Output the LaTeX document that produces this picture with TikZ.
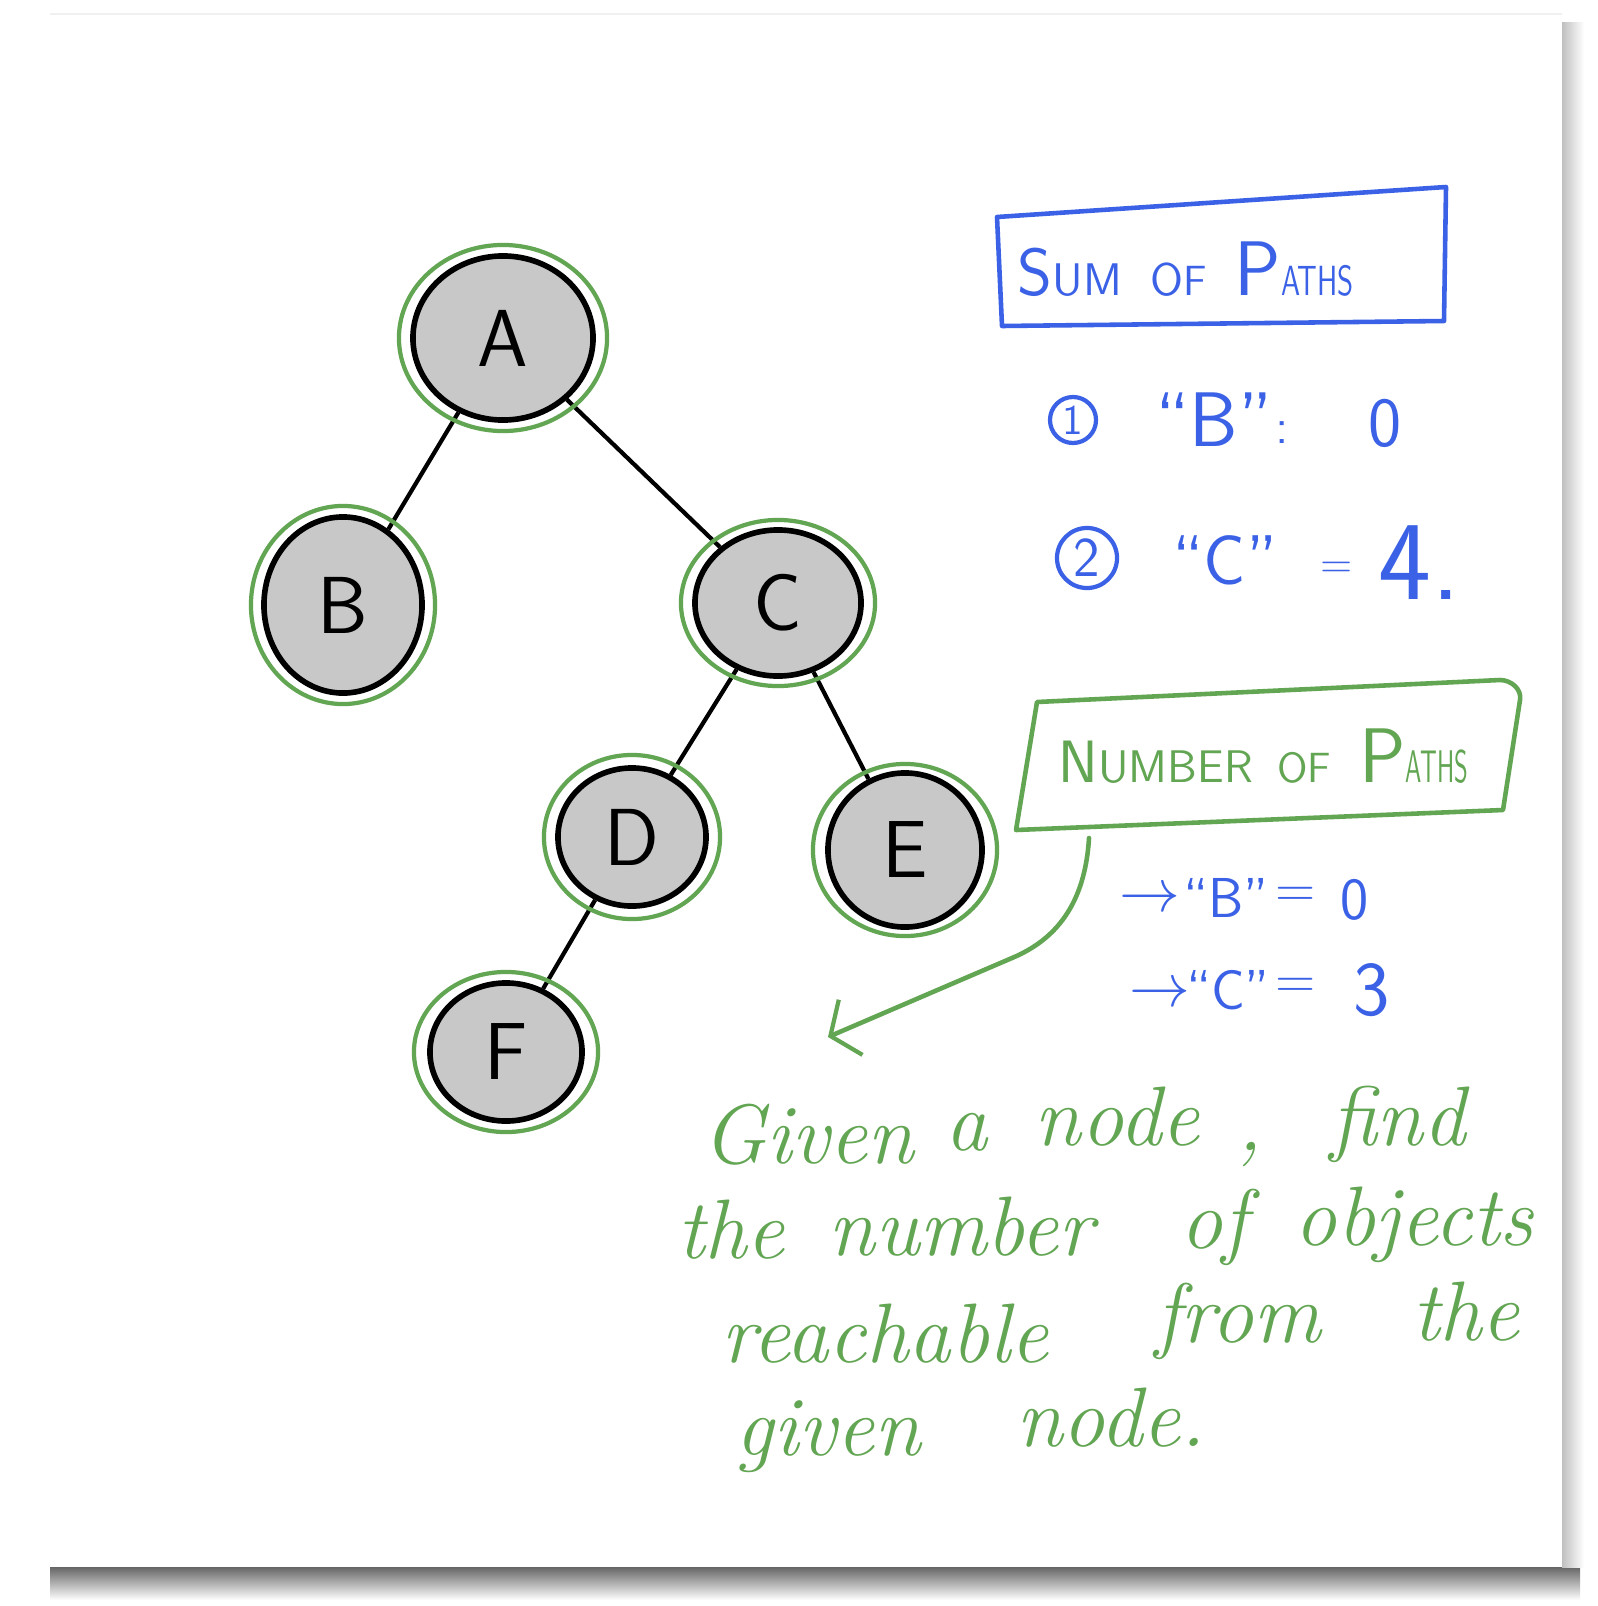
\documentclass[tikz,border=0pt]{standalone}
\usepackage{graphicx}
\usepackage{tikz}
\usetikzlibrary{arrows.meta, positioning, shapes.geometric, calc}

\newcommand{\capsize}[2]{{\fontsize{#1}{#1}\selectfont #2}}
\newcommand{\squeeze}[2]{\scalebox{#1}[1]{#2}}

\begin{document}
\begin{tikzpicture}[
  x=0.01cm, y=-0.01cm,
  >={Straight Barb[length=2.2mm, width=6mm, line width=1.2pt]},
  tnode/.style={ellipse, draw=black, fill=cnode, line width=1.6pt, inner sep=0pt,
                font=\sffamily\fontsize{23}{28}\selectfont},
  greenring/.style={draw=cgreen, line width=1.2pt},
  link/.style={draw=black, line width=1.2pt},
  bluepen/.style={draw=cblue, line width=1.3pt, line join=round, line cap=round},
  greenpen/.style={draw=cgreen, line width=1.3pt, line join=round, line cap=round},
  btxt/.style={text=cblue, inner sep=0pt, font=\sffamily\fontsize{20}{24}\selectfont},
  bnum/.style={circle, draw=cblue, line width=1.2pt, inner sep=0pt, text=cblue},
  gtxt/.style={text=cgreen, inner sep=0pt, anchor=base, font=\itshape\fontsize{24}{28}\selectfont},
]
\definecolor{cnode}{HTML}{C8C8C8}
\definecolor{cgreen}{HTML}{62A552}
\definecolor{cblue}{HTML}{3B62E6}
% page and its shadow
\fill[white] (0,0) rectangle (1598,1606);
\shade[top color=black!60, bottom color=white] (50,1567) rectangle (1580,1600);
\shade[left color=black!25, right color=white] (1562,22) rectangle (1584,1567);
\fill[white] (50,14) rectangle (1562,1567);
\draw[black!6] (50,14) -- (1562,14);
\useasboundingbox (0,0) rectangle (1598,1606);

% tree
\node[tnode, minimum width=1.80cm, minimum height=1.64cm] (A) at (503,338) {A};
\node[tnode, minimum width=1.58cm, minimum height=1.76cm] (B) at (343,605) {B};
\node[tnode, minimum width=1.66cm, minimum height=1.46cm] (C) at (778,603) {C};
\node[tnode, minimum width=1.48cm, minimum height=1.38cm] (D) at (632,837) {D};
\node[tnode, minimum width=1.54cm, minimum height=1.54cm] (E) at (905,850) {E};
\node[tnode, minimum width=1.52cm, minimum height=1.38cm] (F) at (506,1052) {F};
\draw[link] (A) -- (B);
\draw[link] (A) -- (C);
\draw[link] (C) -- (D);
\draw[link] (C) -- (E);
\draw[link] (D) -- (F);
\draw[greenring] (A) ellipse[x radius=1.04cm, y radius=0.93cm];
\draw[greenring] (B) ellipse[x radius=0.92cm, y radius=0.99cm];
\draw[greenring] (C) ellipse[x radius=0.97cm, y radius=0.83cm];
\draw[greenring] (D) ellipse[x radius=0.88cm, y radius=0.82cm];
\draw[greenring] (E) ellipse[x radius=0.92cm, y radius=0.86cm];
\draw[greenring] (F) ellipse[x radius=0.92cm, y radius=0.80cm];

% sum of paths
\draw[bluepen] (997,217) -- (1446,187) -- (1444,321) -- (1002,326) -- cycle;
\node[btxt, anchor=base west] (sumtitle) at (1017,295)
  {\capsize{19}{S}\capsize{13}{UM}\hspace{8pt}\capsize{13}{O}\capsize{12}{F}\hspace{8pt}\capsize{22}{P}\squeeze{0.7}{\capsize{12}{ATHS}}};
\node[bnum, minimum size=0.46cm, font=\sffamily\fontsize{12}{12}\selectfont] (n1) at (1073,420) {1};
\node[btxt, font=\sffamily\fontsize{22}{24}\selectfont] (q1) at (1214,420) {``B''};
\node[btxt, font=\sffamily\fontsize{14}{16}\selectfont] (c1) at (1282,433) {:};
\node[btxt, font=\sffamily\fontsize{20}{24}\selectfont] (v1) at (1385,423) {0};
\node[bnum, minimum size=0.60cm, font=\sffamily\fontsize{16}{16}\selectfont] (n2) at (1087,558) {2};
\node[btxt, font=\sffamily\fontsize{20}{24}\selectfont] (q2) at (1225,560) {``C''};
\node[btxt, font=\sffamily\fontsize{12}{14}\selectfont] (e2) at (1337,570) {=};
\node[btxt, font=\sffamily\fontsize{32}{36}\selectfont] (v2) at (1420,563) {4.};

% number of paths
\draw[greenpen] (1037,702) -- (1500,680) to[out=0, in=80] (1520,700) -- (1503,810) -- (1016,830) -- cycle;
\node[text=cgreen, inner sep=0pt, anchor=base west, font=\sffamily] (numtitle) at (1058,782)
  {\capsize{17}{N}\capsize{13}{UMBER}\hspace{7pt}\capsize{12}{OF}\hspace{8pt}\capsize{22}{P}\squeeze{0.55}{\capsize{13}{ATHS}}};
\node[btxt, font=\sffamily\fontsize{16}{18}\selectfont] (r3) at (1150,900) {$\rightarrow$};
\node[btxt, font=\sffamily\fontsize{16}{20}\selectfont] (q3) at (1226,898) {``B''};
\node[btxt, font=\sffamily\fontsize{15}{18}\selectfont] (e3) at (1296,897) {=};
\node[btxt, font=\sffamily\fontsize{17}{20}\selectfont] (v3) at (1355,900) {0};
\node[btxt, font=\sffamily\fontsize{16}{18}\selectfont] (r4) at (1160,995) {$\rightarrow$};
\node[btxt, font=\sffamily\fontsize{16}{20}\selectfont] (q4) at (1228,990) {``C''};
\node[btxt, font=\sffamily\fontsize{15}{18}\selectfont] (e4) at (1296,988) {=};
\node[btxt, font=\sffamily\fontsize{22}{24}\selectfont] (v4) at (1372,990) {3};

% callout arrow
\coordinate (callout) at (1089,838);
\coordinate (bend) at (1012,958);
\coordinate (pointer) at (828,1037);
\draw[greenpen, ->] (callout) .. controls (1085,905) and (1055,940) .. (bend) -- (pointer);

% handwritten note
\node[gtxt] (given1) at (808,1163) {Given};
\node[gtxt] (a1) at (967,1150) {a};
\node[gtxt] (node1) at (1117,1145) {node};
\node[gtxt] (comma1) at (1250,1150) {,};
\node[gtxt] (find1) at (1398,1145) {find};
\node[gtxt] (the2) at (731,1258) {the};
\node[gtxt] (number2) at (961,1255) {number};
\node[gtxt] (of2) at (1214,1248) {of};
\node[gtxt] (objects2) at (1414,1245) {objects};
\node[gtxt] (reachable3) at (885,1362) {reachable};
\node[gtxt] (from3) at (1238,1342) {from};
\node[gtxt] (the3) at (1466,1340) {the};
\node[gtxt] (given4) at (828,1455) {given};
\node[gtxt] (node4) at (1111,1446) {node.};
\end{tikzpicture}
\end{document}
